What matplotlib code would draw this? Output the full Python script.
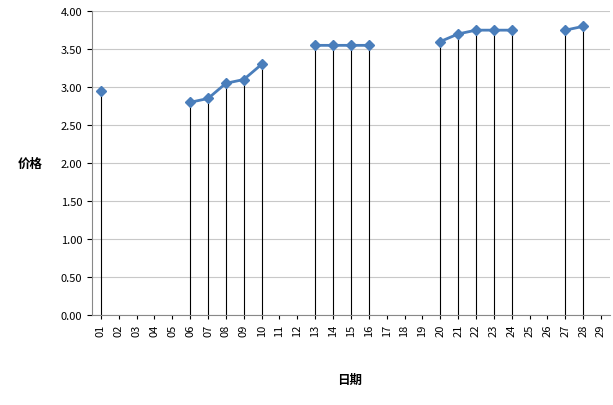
import matplotlib
matplotlib.use("Agg")
import matplotlib.pyplot as plt
import numpy as np

plt.rcParams['font.family'] = ['Noto Sans CJK SC', 'DejaVu Sans']

days = [f"{i:02d}" for i in range(1, 30)]
prices = {"01": 2.95, "06": 2.80, "07": 2.85, "08": 3.05, "09": 3.10, "10": 3.30,
          "13": 3.55, "14": 3.55, "15": 3.55, "16": 3.55,
          "20": 3.60, "21": 3.70, "22": 3.75, "23": 3.75, "24": 3.75,
          "27": 3.75, "28": 3.80}

y = np.array([prices.get(d, np.nan) for d in days])
x = np.arange(len(days))

fig = plt.figure(figsize=(6.13, 4.06), dpi=100)
ax = fig.add_axes([0.150, 0.222, 0.845, 0.748])
ax.set_xlim(-0.5, len(days) - 0.5)
ax.set_ylim(0, 4)
ax.set_yticks(np.arange(0, 4.01, 0.5))
ax.set_yticklabels([f"{v:.2f}" for v in np.arange(0, 4.01, 0.5)], fontsize=8)
ax.yaxis.grid(True, color='#c8c8c8', linewidth=0.8)
ax.set_axisbelow(True)
ax.set_xticks(x)
ax.set_xticklabels(days, rotation=90, fontsize=8)
ax.tick_params(axis='x', length=3)
for xi, yi in zip(x, y):
    if not np.isnan(yi):
        ax.vlines(xi, 0, yi, color='black', linewidth=0.8)
ax.plot(x, y, color='#4a7ebb', linewidth=2, marker='D', markersize=5,
        markerfacecolor='#4a7ebb', markeredgecolor='#4a7ebb')
for s in ['top', 'right']:
    ax.spines[s].set_visible(False)
ax.spines['left'].set_color('#888888')
ax.spines['bottom'].set_color('#888888')
fig.text(0.05, 0.595, "价格", fontsize=9, fontweight='bold', ha='center', va='center')
fig.text(0.57, 0.063, "日期", fontsize=9, fontweight='bold', ha='center', va='center')
fig.savefig("out.png", dpi=100)
